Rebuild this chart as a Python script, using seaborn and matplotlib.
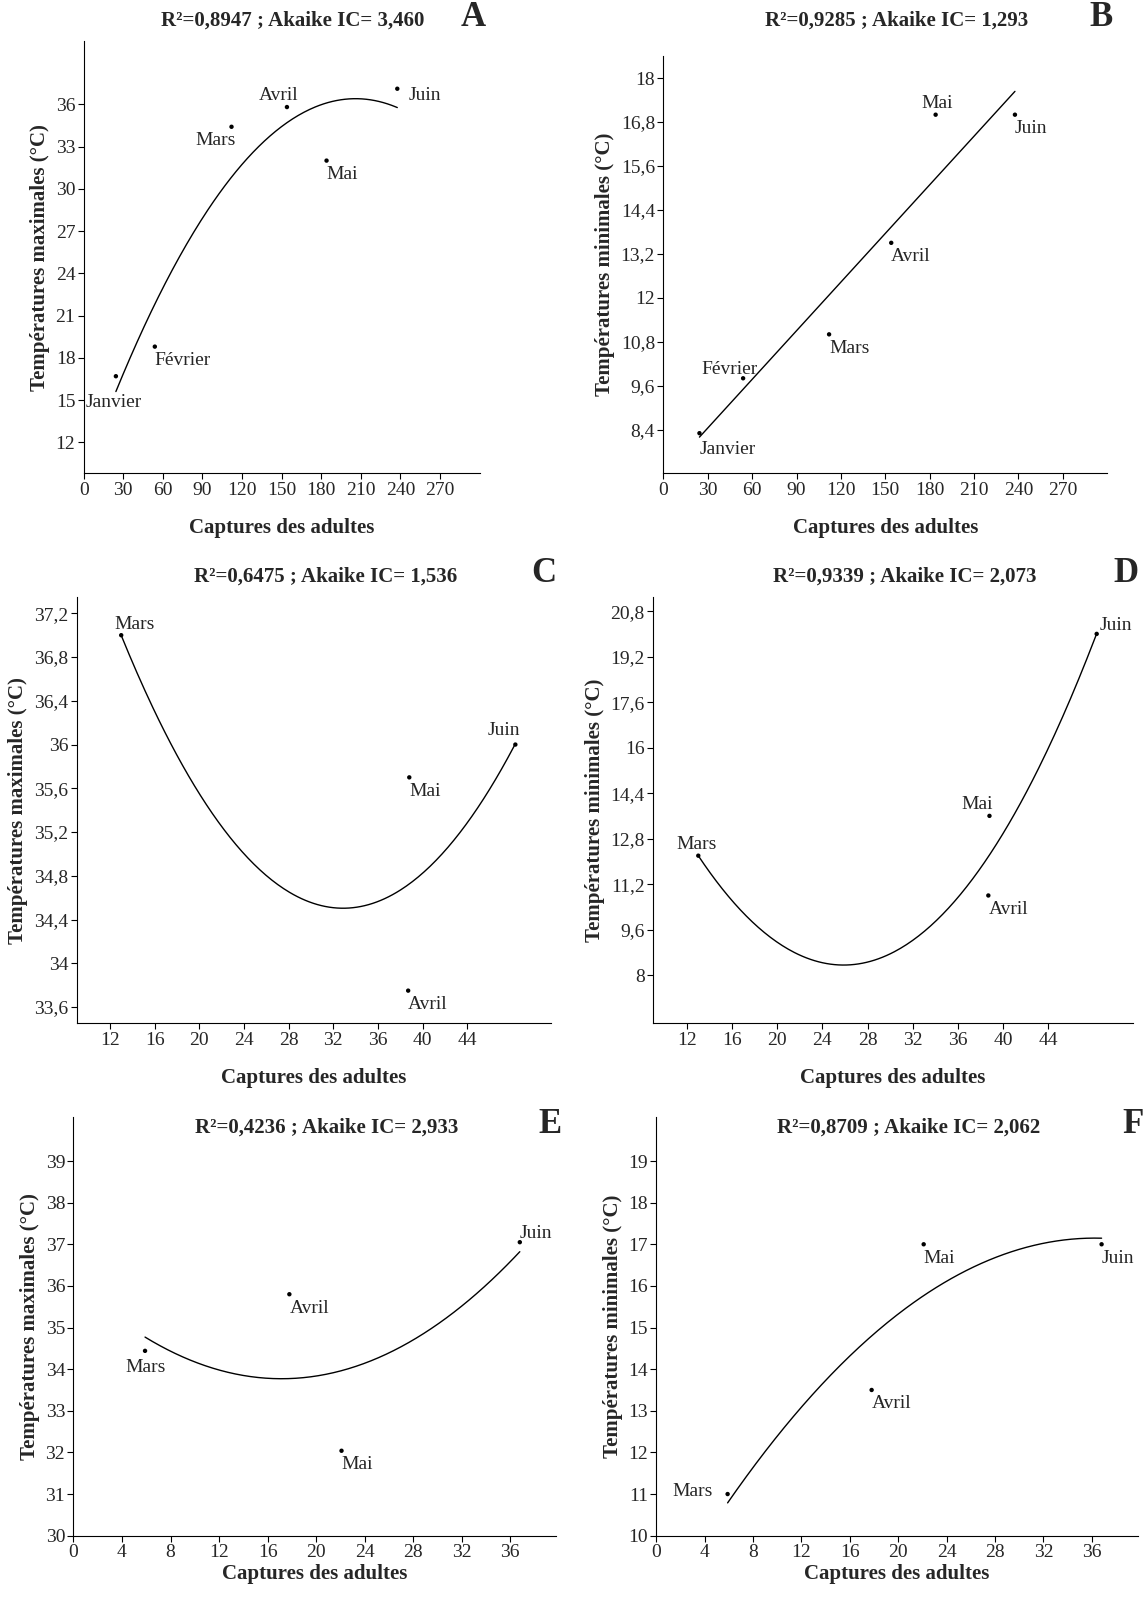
import numpy as np
import pandas as pd
import seaborn as sns
import matplotlib
matplotlib.use("Agg")
import matplotlib.pyplot as plt
from matplotlib.ticker import FuncFormatter

sns.set_theme(style="ticks")
plt.rcParams["font.family"] = ["Liberation Serif", "DejaVu Serif"]

# captures and temperatures per panel
months_6 = ["Janvier", "Février", "Mars", "Avril", "Mai", "Juin"]
months_4 = ["Mars", "Avril", "Mai", "Juin"]

a_x = [24.4, 53.9, 112, 154, 184, 237.6]
a_y = [16.7, 18.8, 34.4, 35.8, 32.0, 37.1]
b_x = [24.4, 53.9, 112, 154, 184, 237.6]
b_y = [8.3, 9.8, 11.0, 13.5, 17.0, 17.0]
c_x = [13, 38.7, 38.8, 48.3]
c_y = [37.0, 33.75, 35.7, 36.0]
d_x = [13, 38.7, 38.8, 48.3]
d_y = [12.2, 10.8, 13.6, 20.0]
e_x = [5.9, 17.8, 22.1, 36.8]
e_y = [34.44, 35.8, 32.04, 37.05]
f_x = [5.9, 17.8, 22.1, 36.8]
f_y = [11.0, 13.5, 17.0, 17.0]

titles = {
    "A": "R²=0,8947 ; Akaike IC= 3,460",
    "B": "R²=0,9285 ; Akaike IC= 1,293",
    "C": "R²=0,6475 ; Akaike IC= 1,536",
    "D": "R²=0,9339 ; Akaike IC= 2,073",
    "E": "R²=0,4236 ; Akaike IC= 2,933",
    "F": "R²=0,8709 ; Akaike IC= 2,062",
}

W, H = 1120, 1570
# panel: (data x, data y, months, fit degree, box px, xlim, xticks, ylim, yticks, ylabel, label offsets)
panels = {
    "A": (a_x, a_y, months_6, 2, (82, 470, 40, 464), (0, 300), np.arange(0, 271, 30),
          (9.8, 40.5), np.arange(12, 37, 3), "Températures maximales (°C)",
          [(-22, -19), (0, -10), (-26, -10), (-20, 8), (0, -10), (8, -5)]),
    "B": (b_x, b_y, months_6, 1, (650, 1085, 55, 464), (0, 300), np.arange(0, 271, 30),
          (7.2, 18.6), np.arange(8.4, 18.1, 1.2), "Températures minimales (°C)",
          [(0, -12), (-30, 6), (0, -10), (0, -10), (-10, 8), (0, -10)]),
    "C": (c_x, c_y, months_4, 2, (75, 540, 585, 1003), (9, 51.5), np.arange(12, 45, 4),
          (33.45, 37.35), np.arange(33.6, 37.3, 0.4), "Températures maximales (°C)",
          [(-5, 8), (0, -10), (0, -10), (-20, 10)]),
    "D": (d_x, d_y, months_4, 2, (640, 1110, 585, 1003), (9, 51.5), np.arange(12, 45, 4),
          (6.3, 21.3), np.arange(8, 20.9, 1.6), "Températures minimales (°C)",
          [(-16, 8), (0, -10), (-20, 8), (2, 6)]),
    "E": (e_x, e_y, months_4, 2, (72, 545, 1095, 1505), (0, 39.8), np.arange(0, 37, 4),
          (30, 40.05), np.arange(30, 40, 1), "Températures maximales (°C)",
          [(-14, -12), (0, -10), (0, -10), (0, 6)]),
    "F": (f_x, f_y, months_4, 2, (643, 1115, 1095, 1505), (0, 39.8), np.arange(0, 37, 4),
          (10, 20.05), np.arange(10, 20, 1), "Températures minimales (°C)",
          [(-40, 2), (0, -10), (0, -10), (0, -10)]),
}

fig = plt.figure(figsize=(11.43, 16.02), dpi=100)


def comma(v, pos):
    s = f"{v:.1f}".rstrip("0").rstrip(".")
    return s.replace(".", ",")


for key, (xs, ys, names, deg, box, xlim, xt, ylim, yt, ylab, offs) in panels.items():
    l, r, t, b = box
    ax = fig.add_axes([l / W, 1 - b / H, (r - l) / W, (b - t) / H])
    df = pd.DataFrame({"x": xs, "y": ys, "mois": names})
    coef = np.polyfit(df["x"], df["y"], deg)
    xx = np.linspace(min(xs), max(xs), 200)
    fit = pd.DataFrame({"x": xx, "y": np.polyval(coef, xx)})
    sns.lineplot(data=fit, x="x", y="y", ax=ax, color="black", lw=1)
    sns.scatterplot(data=df, x="x", y="y", ax=ax, color="black", s=10, edgecolor="none")
    for (px, py, n), (dx, dy) in zip(zip(xs, ys, names), offs):
        ax.annotate(n, (px, py), xytext=(dx, dy), textcoords="offset points",
                    fontsize=14, va="center", ha="left")
    ax.set_xlim(*xlim)
    ax.set_ylim(*ylim)
    ax.set_xticks(xt)
    ax.set_yticks(yt)
    ax.yaxis.set_major_formatter(FuncFormatter(comma))
    ax.tick_params(labelsize=14, length=4, width=0.8, color="black", pad=2)
    sns.despine(ax=ax)
    for s in ax.spines.values():
        s.set_linewidth(0.8)
        s.set_color("black")
    ax.set_xlabel("Captures des adultes", fontsize=15, fontweight="bold",
                  labelpad=14 if key in "ABCD" else 2)
    ax.set_ylabel(ylab, fontsize=15, fontweight="bold", labelpad=4)
    ax.grid(False)
    cx = (l + r) / 2 / W
    if key in "ABCD":
        ty = 1 - (t - 10) / H if key != "B" else 1 - (t - 25) / H
    else:
        ty = 1 - (t + 20) / H
    fig.text(cx + 0.01, ty, titles[key], fontsize=15, fontweight="bold",
             ha="center", va="bottom")
    fig.text(r / W + 0.005, ty - 0.002, key, fontsize=25, fontweight="bold",
             ha="right", va="bottom")

fig.savefig("out.png", dpi=100, facecolor="white")
